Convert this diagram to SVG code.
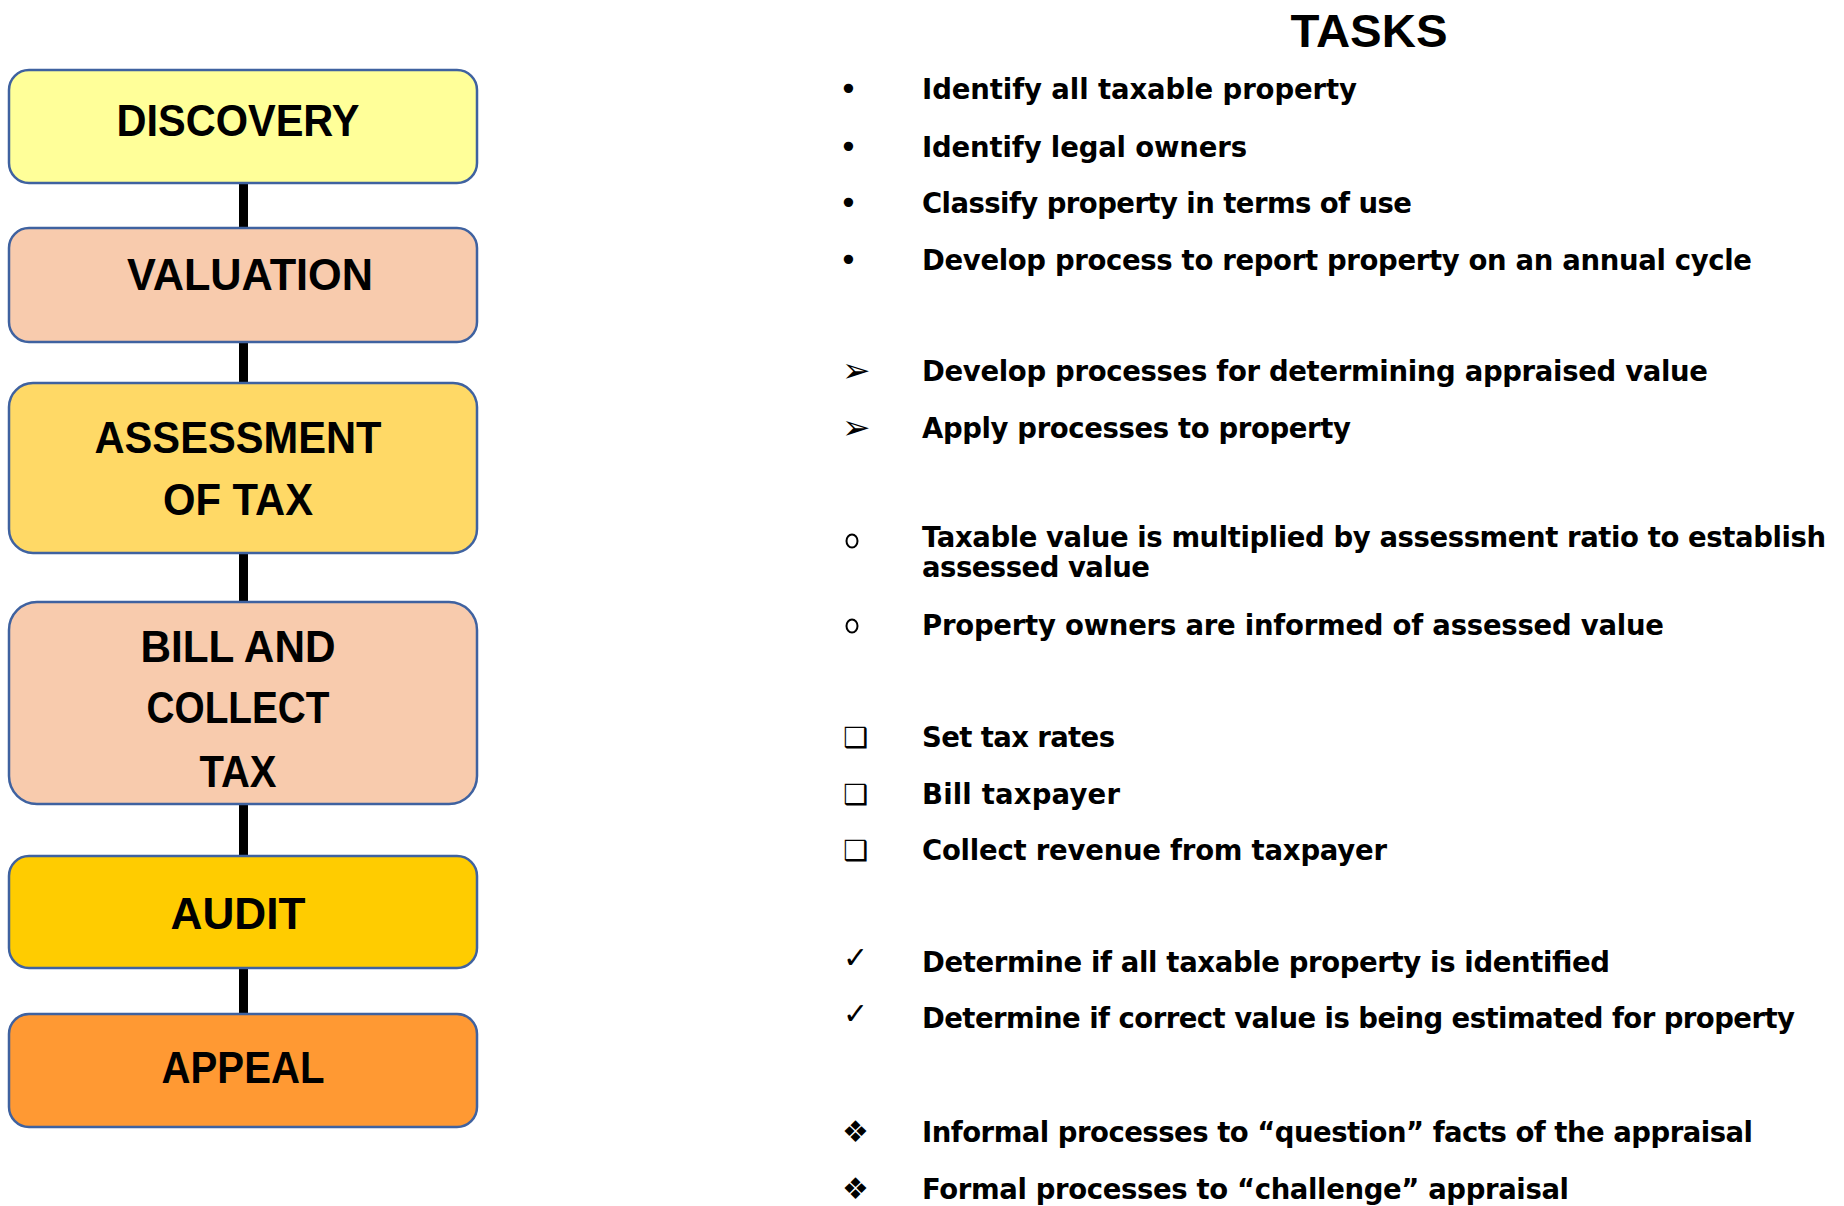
<svg xmlns="http://www.w3.org/2000/svg" width="1844" height="1206" viewBox="0 0 1844 1206">
<style>
.box{stroke:#3F62A0;stroke-width:2.5}
.lbl{font-family:"Liberation Sans",Arial,sans-serif;font-weight:bold;font-size:45px;fill:#000;text-anchor:middle}
.t{font-family:"DejaVu Sans","Liberation Sans",sans-serif;font-weight:bold;font-size:27.5px;fill:#000}
.b{font-family:"DejaVu Sans","Liberation Sans",sans-serif;fill:#000}
.title{font-family:"Liberation Sans",Arial,sans-serif;font-weight:bold;font-size:47px;fill:#000;text-anchor:middle}
</style>
<rect width="1844" height="1206" fill="#fff"/>
<g id="connectors" fill="#000">
<rect x="239" y="183" width="9" height="45"/>
<rect x="239" y="342" width="9" height="41"/>
<rect x="239" y="553" width="9" height="49"/>
<rect x="239" y="804" width="9" height="52"/>
<rect x="239" y="968" width="9" height="46"/>
</g>
<g id="discovery">
<rect class="box" x="9" y="70" width="468" height="113" rx="20" fill="#FFFF99"/>
<text class="lbl" x="238" y="136" textLength="243" lengthAdjust="spacingAndGlyphs">DISCOVERY</text>
</g>
<g id="valuation">
<rect class="box" x="9" y="228" width="468" height="114" rx="20" fill="#F8CBAD"/>
<text class="lbl" x="250" y="290" textLength="246" lengthAdjust="spacingAndGlyphs">VALUATION</text>
</g>
<g id="assessment">
<rect class="box" x="9" y="383" width="468" height="170" rx="24" fill="#FFD966"/>
<text class="lbl" x="238" y="453" textLength="287" lengthAdjust="spacingAndGlyphs">ASSESSMENT</text>
<text class="lbl" x="238" y="515" textLength="150" lengthAdjust="spacingAndGlyphs">OF TAX</text>
</g>
<g id="bill">
<rect class="box" x="9" y="602" width="468" height="202" rx="28" fill="#F8CBAD"/>
<text class="lbl" x="238" y="662" textLength="195" lengthAdjust="spacingAndGlyphs">BILL AND</text>
<text class="lbl" x="238" y="723" textLength="183" lengthAdjust="spacingAndGlyphs">COLLECT</text>
<text class="lbl" x="238" y="787" textLength="77" lengthAdjust="spacingAndGlyphs">TAX</text>
</g>
<g id="audit">
<rect class="box" x="9" y="856" width="468" height="112" rx="20" fill="#FFCC00"/>
<text class="lbl" x="238" y="929" textLength="135" lengthAdjust="spacingAndGlyphs">AUDIT</text>
</g>
<g id="appeal">
<rect class="box" x="9" y="1014" width="468" height="113" rx="20" fill="#FF9933"/>
<text class="lbl" x="243" y="1083" textLength="163" lengthAdjust="spacingAndGlyphs">APPEAL</text>
</g>
<g id="tasks">
<text class="title" x="1369" y="47" textLength="157" lengthAdjust="spacingAndGlyphs">TASKS</text>
<g class="b" font-size="32">
<text x="839" y="100">•</text>
<text x="839" y="158">•</text>
<text x="839" y="214">•</text>
<text x="839" y="271">•</text>
</g>
<g class="b" font-size="34">
<text x="842" y="382">➢</text>
<text x="842" y="439">➢</text>
</g>
<g fill="none" stroke="#000" stroke-width="2">
<ellipse cx="852" cy="541" rx="5.5" ry="6.5"/>
<ellipse cx="852" cy="626" rx="5.5" ry="6.5"/>
</g>
<g class="b" font-size="28">
<text x="843" y="747">❑</text>
<text x="843" y="804">❑</text>
<text x="843" y="860">❑</text>
</g>
<g class="b" font-size="30">
<text x="843" y="968">✓</text>
<text x="843" y="1024">✓</text>
</g>
<g class="b" font-size="30">
<text x="842" y="1142">❖</text>
<text x="842" y="1199">❖</text>
</g>
<text class="t" x="922" y="99" textLength="435" lengthAdjust="spacing">Identify all taxable property</text>
<text class="t" x="922" y="157" textLength="325" lengthAdjust="spacing">Identify legal owners</text>
<text class="t" x="922" y="213" textLength="490" lengthAdjust="spacing">Classify property in terms of use</text>
<text class="t" x="922" y="270" textLength="830" lengthAdjust="spacing">Develop process to report property on an annual cycle</text>
<text class="t" x="922" y="381" textLength="786" lengthAdjust="spacing">Develop processes for determining appraised value</text>
<text class="t" x="922" y="438" textLength="429" lengthAdjust="spacing">Apply processes to property</text>
<text class="t" x="922" y="547" textLength="904" lengthAdjust="spacing">Taxable value is multiplied by assessment ratio to establish</text>
<text class="t" x="922" y="577" textLength="228" lengthAdjust="spacing">assessed value</text>
<text class="t" x="922" y="635" textLength="742" lengthAdjust="spacing">Property owners are informed of assessed value</text>
<text class="t" x="922" y="747" textLength="193" lengthAdjust="spacing">Set tax rates</text>
<text class="t" x="922" y="804" textLength="198" lengthAdjust="spacing">Bill taxpayer</text>
<text class="t" x="922" y="860" textLength="465" lengthAdjust="spacing">Collect revenue from taxpayer</text>
<text class="t" x="922" y="972" textLength="688" lengthAdjust="spacing">Determine if all taxable property is identified</text>
<text class="t" x="922" y="1028" textLength="873" lengthAdjust="spacing">Determine if correct value is being estimated for property</text>
<text class="t" x="922" y="1142" textLength="831" lengthAdjust="spacing">Informal processes to “question” facts of the appraisal</text>
<text class="t" x="922" y="1199" textLength="647" lengthAdjust="spacing">Formal processes to “challenge” appraisal</text>
</g>
</svg>
